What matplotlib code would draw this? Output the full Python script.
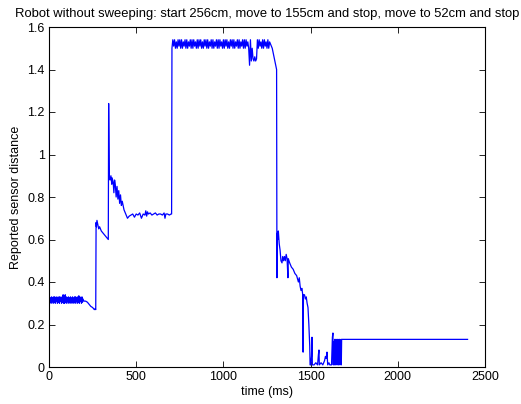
import matplotlib
matplotlib.use("Agg")
import matplotlib.pyplot as plt

plt.rcParams['font.family'] = ['Liberation Sans', 'DejaVu Sans']

# --- data (time in ms, reported distance) ---
# noisy start band, sampled every 3 ms
t_band1 = list(range(0, 198, 3))
v_band1 = [0.30, 0.33, 0.305, 0.325, 0.30, 0.33, 0.31, 0.325, 0.30, 0.33,
           0.305, 0.33, 0.30, 0.325, 0.31, 0.33, 0.30, 0.325, 0.305, 0.33,
           0.30, 0.33, 0.31, 0.325, 0.30, 0.33, 0.305, 0.34, 0.30, 0.335,
           0.30, 0.34, 0.305, 0.33, 0.30, 0.325, 0.31, 0.33, 0.30, 0.325,
           0.305, 0.33, 0.30, 0.325, 0.31, 0.33, 0.30, 0.325, 0.305, 0.33,
           0.30, 0.33, 0.31, 0.325, 0.30, 0.33, 0.305, 0.335, 0.30, 0.33,
           0.31, 0.325, 0.30, 0.33, 0.305, 0.32]

t_start = [200, 210, 220, 230, 240, 250, 260, 265, 268]
v_start = [0.31, 0.31, 0.305, 0.295, 0.285, 0.28, 0.27, 0.275, 0.27]

t_mid = [270, 272, 275, 280, 285, 290, 300, 310, 320, 330, 340, 342, 346, 350, 355, 360,
         362, 368, 372, 376, 380, 385, 390, 395, 400, 405, 410, 415, 420, 430, 440, 450,
         460, 470, 480, 490, 500, 510, 520, 530, 540, 550, 555, 560, 565, 570, 580, 590,
         600, 610, 620, 630, 640, 650, 660, 665, 670, 680, 690, 700, 703]
v_mid = [0.68, 0.66, 0.69, 0.67, 0.65, 0.66, 0.64, 0.63, 0.62, 0.61, 0.60, 1.24, 0.89,
         0.88, 0.90, 0.86, 0.89, 0.87, 0.82, 0.88, 0.86, 0.80, 0.85, 0.79, 0.83, 0.77,
         0.81, 0.76, 0.78, 0.74, 0.72, 0.70, 0.71, 0.715, 0.72, 0.705, 0.72, 0.715, 0.725,
         0.70, 0.72, 0.715, 0.735, 0.71, 0.73, 0.72, 0.725, 0.715, 0.72, 0.725, 0.715,
         0.72, 0.72, 0.715, 0.725, 0.70, 0.72, 0.72, 0.715, 0.72, 0.72]

# noisy top band, sampled every 5 ms
t_top = list(range(705, 1270, 5))
v_top = [1.50, 1.54, 1.51, 1.54, 1.50, 1.53, 1.50, 1.54, 1.51, 1.54,
         1.50, 1.54, 1.50, 1.53, 1.51, 1.54, 1.50, 1.54, 1.50, 1.53,
         1.51, 1.54, 1.50, 1.54, 1.50, 1.54, 1.51, 1.53, 1.50, 1.54,
         1.50, 1.54, 1.51, 1.54, 1.50, 1.53, 1.50, 1.54, 1.51, 1.54,
         1.50, 1.54, 1.50, 1.53, 1.51, 1.54, 1.50, 1.54, 1.50, 1.53,
         1.51, 1.54, 1.50, 1.54, 1.50, 1.54, 1.51, 1.53, 1.50, 1.54,
         1.50, 1.54, 1.51, 1.54, 1.50, 1.53, 1.50, 1.54, 1.51, 1.54,
         1.50, 1.54, 1.50, 1.53, 1.51, 1.54, 1.50, 1.54, 1.50, 1.53,
         1.51, 1.54, 1.50, 1.54, 1.50, 1.54, 1.51, 1.53, 1.50, 1.42,
         1.54, 1.44, 1.50, 1.45, 1.44, 1.46, 1.44, 1.45, 1.54, 1.50,
         1.54, 1.51, 1.53, 1.50, 1.54, 1.50, 1.54, 1.51, 1.53, 1.50,
         1.54, 1.50, 1.53]

t_fall = [1270, 1280, 1290, 1295, 1300, 1305,
          1307, 1309, 1312, 1315, 1320, 1325, 1330, 1336, 1340, 1345, 1350, 1355, 1360,
          1365, 1370, 1372, 1380, 1390, 1400, 1410, 1420, 1430, 1435, 1440, 1445, 1450,
          1455, 1457, 1459, 1465, 1470, 1475, 1480, 1485, 1490, 1495, 1497, 1500, 1505,
          1508, 1510, 1520, 1530, 1540, 1545, 1548, 1550, 1560, 1570, 1580, 1585, 1590,
          1594, 1598, 1605, 1610, 1620, 1625, 1628, 1630, 1633, 1636, 1638, 1640, 1642,
          1644, 1646, 1648, 1650, 1652, 1654, 1656, 1658, 1660, 1662, 1664, 1666, 1668,
          1670, 1672, 1674, 1676, 1678, 1680, 2400]
v_fall = [1.52, 1.50, 1.46, 1.44, 1.42, 1.40,
          0.42, 0.63, 0.60, 0.64, 0.58, 0.55, 0.50, 0.49, 0.52, 0.50, 0.52, 0.50, 0.53,
          0.51, 0.42, 0.51, 0.49, 0.47, 0.46, 0.44, 0.43, 0.40, 0.42, 0.38, 0.36, 0.37,
          0.34, 0.07, 0.34, 0.34, 0.32, 0.33, 0.30, 0.28, 0.20, 0.10, 0.01, 0.01, 0.05,
          0.14, 0.01, 0.01, 0.02, 0.01, 0.06, 0.08, 0.01, 0.02, 0.01, 0.03, 0.05, 0.04,
          0.07, 0.01, 0.02, 0.01, 0.01, 0.14, 0.16, 0.01, 0.12, 0.01, 0.13, 0.02, 0.13,
          0.01, 0.12, 0.02, 0.13, 0.01, 0.13, 0.02, 0.12, 0.01, 0.13, 0.02, 0.13, 0.01,
          0.12, 0.02, 0.13, 0.01, 0.13, 0.13, 0.13]

x_ticks = [0, 500, 1000, 1500, 2000, 2500]
y_ticks = [0, 0.2, 0.4, 0.6, 0.8, 1.0, 1.2, 1.4, 1.6]
y_tick_labels = ['0', '0.2', '0.4', '0.6', '0.8', '1', '1.2', '1.4', '1.6']

title = "Robot without sweeping: start 256cm, move to 155cm and stop, move to 52cm and stop"

times = t_band1 + t_start + t_mid + t_top + t_fall
values = v_band1 + v_start + v_mid + v_top + v_fall

fig = plt.figure(figsize=(5.21, 4.04), dpi=100)
ax = fig.add_axes([49/521, 37/404, 436/521, 340/404])
ax.plot(times, values, color='#0000ff', linewidth=0.9)

ax.set_xlim(0, 2500)
ax.set_ylim(0, 1.6)
ax.set_xticks(x_ticks)
ax.set_yticks(y_ticks)
ax.set_yticklabels(y_tick_labels)
ax.tick_params(direction='in', length=4, width=0.6, labelsize=9, top=True, right=True,
               labeltop=False, labelright=False, pad=3)
for s in ax.spines.values():
    s.set_linewidth(0.8)
ax.set_xlabel('time (ms)', fontsize=9, labelpad=2)
ax.set_ylabel('Reported sensor distance', fontsize=9, labelpad=4)
ax.set_title(title, fontsize=9.4, pad=7)

fig.savefig('out.png', dpi=100)
